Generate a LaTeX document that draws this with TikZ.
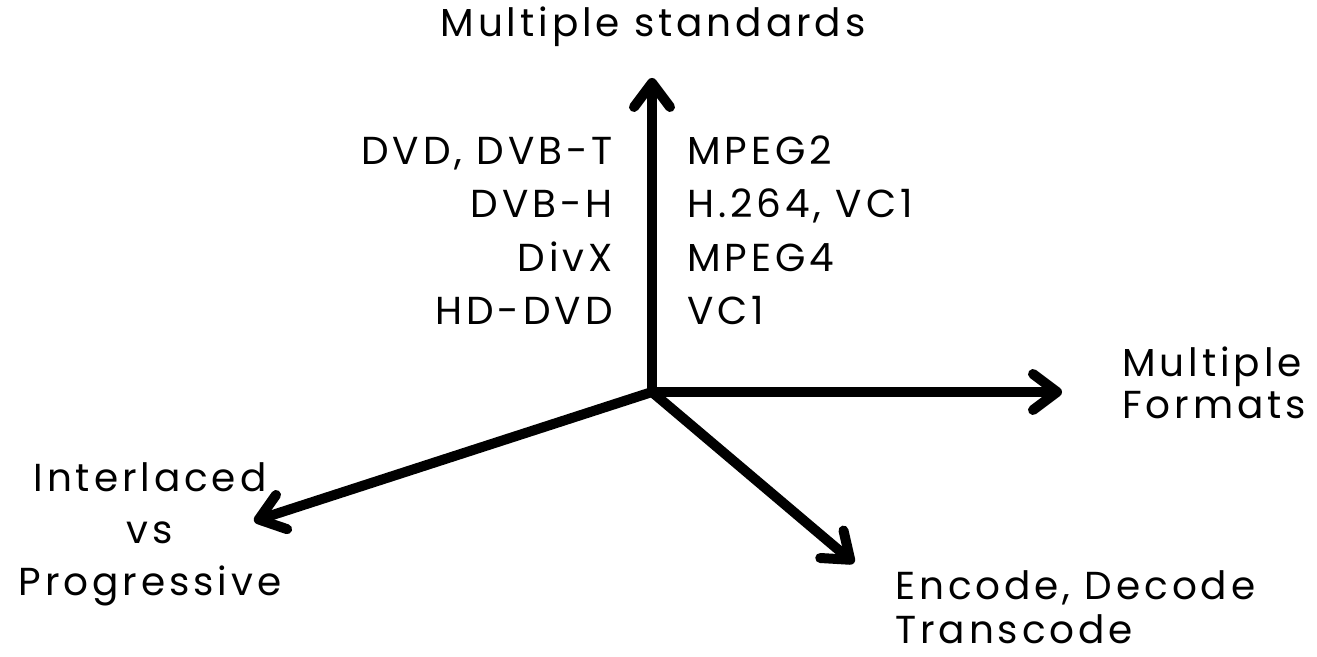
\documentclass[tikz,border=0pt]{standalone}
\usepackage{fontspec}
\setmainfont[LetterSpace=10]{Poppins}
\usetikzlibrary{arrows.meta}

\begin{document}
\begin{tikzpicture}[
            x=0.5pt, y=-0.5pt,
            axis/.style={line width=5pt, -{Straight Barb[length=12pt, width=18pt, line cap=round, line join=round]}},
            lbl/.style={inner sep=0pt, font=\fontsize{19.5}{21}\selectfont},
        ]
            \useasboundingbox (0, 0) rectangle (1317, 657);

            \coordinate (o) at (652, 392);
            \coordinate (up) at (652, 78);
            \coordinate (fmt) at (1062, 392);
            \coordinate (ilv) at (254, 521);
            \coordinate (enc) at (854, 563);

            \draw[axis] (o) -- (up);
            \draw[axis] (o) -- (fmt);
            \draw[axis] (o) -- (ilv);
            \draw[axis] (o) -- (enc);

            \node[lbl, anchor=base] (standards) at (653, 37) {Multiple standards};
            \node[lbl, anchor=base west, align=left] (formats) at (1122, 419) {Multiple\\ Formats};
            \node[lbl, anchor=base, align=center] (interlaced) at (150, 595) {Interlaced\\[5pt] vs\\[5pt] Progressive};
            \node[lbl, anchor=base west, align=left] (encode) at (895, 643) {Encode, Decode\\[1pt] Transcode};

            \node[lbl, anchor=base east] (dvd) at (613, 165) {DVD, DVB-T};
            \node[lbl, anchor=base east] (dvbh) at (613, 218) {DVB-H};
            \node[lbl, anchor=base east] (divx) at (613, 272) {DivX};
            \node[lbl, anchor=base east] (hddvd) at (613, 325) {HD-DVD};

            \node[lbl, anchor=base west] (mpeg2) at (687, 165) {MPEG2};
            \node[lbl, anchor=base west] (h264) at (687, 218) {H.264, VC1};
            \node[lbl, anchor=base west] (mpeg4) at (687, 272) {MPEG4};
            \node[lbl, anchor=base west] (vc1) at (687, 325) {VC1};
        \end{tikzpicture}
\end{document}
